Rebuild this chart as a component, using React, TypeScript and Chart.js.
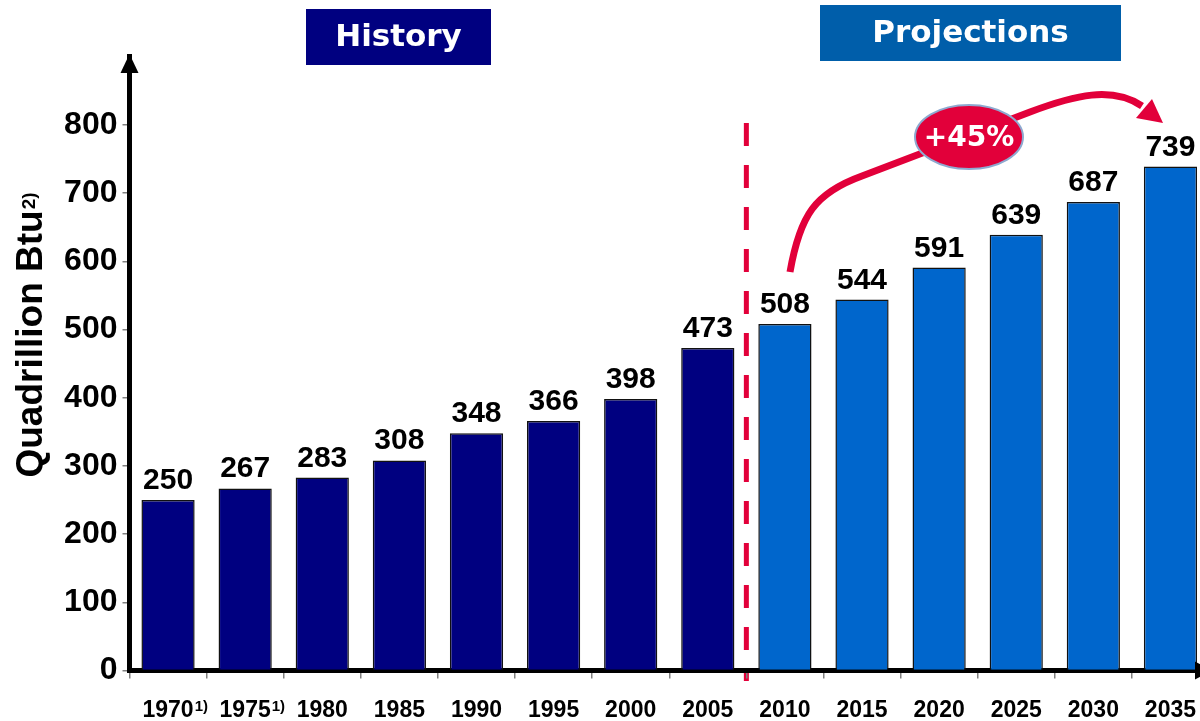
import React, { useEffect, useRef } from 'react';
import { Chart, registerables } from 'chart.js';

Chart.register(...registerables);

// ---- data ----
const categories = ['1970', '1975', '1980', '1985', '1990', '1995', '2000', '2005', '2010', '2015', '2020', '2025', '2030', '2035'];
const footnotes = ['1)', '1)', '', '', '', '', '', '', '', '', '', '', '', ''];
const values = [250, 267, 283, 308, 348, 366, 398, 473, 508, 544, 591, 639, 687, 739];
const periods = ['history', 'history', 'history', 'history', 'history', 'history', 'history', 'history', 'projection', 'projection', 'projection', 'projection', 'projection', 'projection'];
const yTickValues = [0, 100, 200, 300, 400, 500, 600, 700, 800];
const yTitle = 'Quadrillion Btu';
const yTitleNote = '2)';
const historyLabel = 'History';
const projectionLabel = 'Projections';
const growthLabel = '+45%';

// ---- styles ----
const FONT = '"Liberation Sans", Arial, Helvetica, sans-serif';
const VFONT = '"DejaVu Sans", Verdana, sans-serif';
const HIST = '#000080';
const PROJ = '#0066CC';
const PROJ_HEADER = '#005EAA';
const RED = '#E2003A';
const XFONT_SIZE = 23;

const decor = {
  id: 'decor',
  beforeDraw(chart: any) {
    const { ctx, scales } = chart;
    const x = scales.x;
    const firstProj = periods.indexOf('projection');
    const split = (x.getPixelForTick(firstProj - 1) + x.getPixelForTick(firstProj)) / 2;
    ctx.save();
    ctx.strokeStyle = RED;
    ctx.lineWidth = 5;
    ctx.setLineDash([23, 19]);
    ctx.beginPath();
    ctx.moveTo(split, 123);
    ctx.lineTo(split, 681);
    ctx.stroke();
    ctx.restore();
  },
  afterDatasetsDraw(chart: any) {
    const { ctx } = chart;
    const meta = chart.getDatasetMeta(0);
    ctx.save();
    ctx.font = `bold 30px ${FONT}`;
    ctx.fillStyle = '#000';
    ctx.textAlign = 'center';
    ctx.textBaseline = 'alphabetic';
    meta.data.forEach((bar: any, i: number) => {
      ctx.fillText(String(values[i]), bar.x, bar.y - 11);
    });
    ctx.restore();
  },
  afterDraw(chart: any) {
    const { ctx, chartArea, scales } = chart;
    ctx.save();
    // axis arrowheads
    ctx.fillStyle = '#000';
    ctx.beginPath();
    ctx.moveTo(chartArea.left, 54);
    ctx.lineTo(chartArea.left - 9, 73);
    ctx.lineTo(chartArea.left + 9, 73);
    ctx.closePath();
    ctx.fill();
    ctx.beginPath();
    ctx.moveTo(chartArea.right + 3, chartArea.bottom);
    ctx.lineTo(chartArea.right - 14, chartArea.bottom - 9);
    ctx.lineTo(chartArea.right - 14, chartArea.bottom + 9);
    ctx.closePath();
    ctx.fill();

    // x label footnotes
    ctx.textAlign = 'left';
    ctx.textBaseline = 'alphabetic';
    footnotes.forEach((note, i) => {
      if (!note) return;
      ctx.font = `bold ${XFONT_SIZE}px ${FONT}`;
      const bw = ctx.measureText(categories[i]).width;
      const cx = scales.x.getPixelForTick(i);
      ctx.font = `bold 15px ${FONT}`;
      ctx.fillText(note, cx + bw / 2 + 1, chartArea.bottom + 40);
    });

    // y title
    ctx.save();
    ctx.translate(42, 335);
    ctx.rotate(-Math.PI / 2);
    ctx.fillStyle = '#000';
    ctx.textBaseline = 'alphabetic';
    ctx.textAlign = 'left';
    ctx.font = `bold 37px ${FONT}`;
    const w1 = ctx.measureText(yTitle).width;
    ctx.font = `bold 19px ${FONT}`;
    const w2 = ctx.measureText(yTitleNote).width;
    const start = -(w1 + w2 + 1) / 2;
    ctx.font = `bold 37px ${FONT}`;
    ctx.fillText(yTitle, start, 0);
    ctx.font = `bold 19px ${FONT}`;
    ctx.fillText(yTitleNote, start + w1 + 1, -7);
    ctx.restore();

    // headers
    ctx.fillStyle = HIST;
    ctx.fillRect(306, 9, 185, 56);
    ctx.fillStyle = PROJ_HEADER;
    ctx.fillRect(820, 5, 301, 56);
    ctx.fillStyle = '#fff';
    ctx.font = `bold 31px ${VFONT}`;
    ctx.textAlign = 'center';
    ctx.textBaseline = 'middle';
    ctx.fillText(historyLabel, 398.5, 38);
    ctx.fillText(projectionLabel, 970.5, 34);

    // growth arrow
    ctx.strokeStyle = RED;
    ctx.lineWidth = 7;
    ctx.lineCap = 'butt';
    ctx.lineJoin = 'round';
    ctx.beginPath();
    ctx.moveTo(790, 272);
    ctx.bezierCurveTo(800, 215, 815, 193, 862, 176);
    ctx.lineTo(1030, 112);
    ctx.bezierCurveTo(1075, 95, 1112, 86, 1142, 106);
    ctx.stroke();
    ctx.fillStyle = RED;
    ctx.beginPath();
    ctx.moveTo(1163, 123);
    ctx.lineTo(1152, 99);
    ctx.lineTo(1136, 118);
    ctx.closePath();
    ctx.fill();

    // ellipse
    ctx.beginPath();
    ctx.ellipse(969, 137, 54, 32, 0, 0, Math.PI * 2);
    ctx.fillStyle = RED;
    ctx.fill();
    ctx.strokeStyle = '#8EA9D0';
    ctx.lineWidth = 2;
    ctx.stroke();
    ctx.fillStyle = '#fff';
    ctx.font = `bold 28px ${VFONT}`;
    ctx.textAlign = 'center';
    ctx.textBaseline = 'middle';
    ctx.fillText(growthLabel, 969, 139);
    ctx.restore();
  },
};

export default function App() {
  const ref = useRef<HTMLCanvasElement>(null);
  useEffect(() => {
    const chart = new Chart(ref.current as HTMLCanvasElement, {
      type: 'bar',
      data: {
        labels: categories,
        datasets: [
          {
            data: values,
            backgroundColor: periods.map((p) => (p === 'history' ? HIST : PROJ)),
            borderColor: '#111',
            borderWidth: 1.5,
            barPercentage: 0.69,
            categoryPercentage: 1,
          },
        ],
      },
      options: {
        responsive: false,
        devicePixelRatio: 1,
        animation: false,
        layout: { padding: { top: 56.8, right: 6, bottom: 0, left: 0 } },
        plugins: { legend: { display: false }, tooltip: { enabled: false } },
        scales: {
          x: {
            type: 'category',
            offset: true,
            grid: { display: true, drawOnChartArea: false, drawTicks: true, tickLength: 8, color: '#808080', lineWidth: 1.5, offset: true },
            border: { display: true, color: '#000', width: 5 },
            ticks: { color: '#000', font: { family: FONT, size: XFONT_SIZE, weight: 'bold' }, padding: 18, autoSkip: false, maxRotation: 0, minRotation: 0 },
            afterFit: (s: any) => { s.height = 50.5; },
          },
          y: {
            min: 0,
            max: 900,
            grid: { display: true, drawOnChartArea: false, drawTicks: true, tickLength: 7, color: '#808080', lineWidth: 1.5 },
            border: { display: true, color: '#000', width: 5 },
            ticks: { color: '#000', font: { family: FONT, size: 32, weight: 'bold' }, padding: 5 },
            afterBuildTicks: (s: any) => { s.ticks = yTickValues.map((v) => ({ value: v })); },
            afterFit: (s: any) => { s.width = 129.5; },
          },
        },
      },
      plugins: [decor],
    } as any);
    return () => chart.destroy();
  }, []);
  return (
    <div style={{ position: 'fixed', left: 0, top: 0, width: 1200, height: 721, overflow: 'hidden', background: '#fff' }}>
      <canvas ref={ref} width={1215} height={721} style={{ display: 'block', width: 1215, height: 721 }} />
    </div>
  );
}
